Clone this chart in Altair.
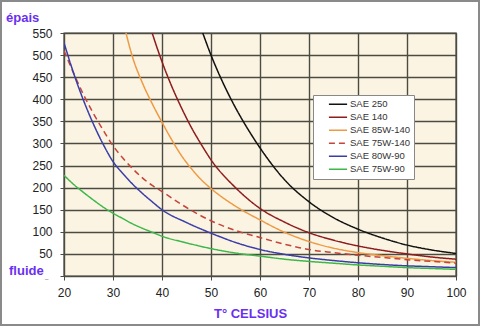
import altair as alt
import pandas as pd

series_names = ["SAE 250", "SAE 140", "SAE 85W-140", "SAE 75W-140", "SAE 80W-90", "SAE 75W-90"]
series_colors = ["#111111", "#8E1C1C", "#EE9A45", "#C5443A", "#3A3DA8", "#3CB84A"]

t_250 = [46, 48, 50, 52, 54, 56, 58, 60, 65, 70, 75, 80, 85, 90, 95, 100]
v_250 = [625, 560, 500, 448, 402, 361, 324, 290, 218, 168, 132, 106, 86, 70, 59, 51]

t_140 = [36, 38, 40, 42, 44, 46, 48, 50, 55, 60, 65, 70, 75, 80, 85, 90, 95, 100]
v_140 = [625, 550, 485, 429, 380, 336, 298, 263, 200, 153, 122, 98, 81, 68, 58, 50, 43, 38]

t_85w140 = [30, 32, 34, 36, 38, 40, 42, 44, 46, 48, 50, 55, 60, 65, 70, 75, 80, 85, 90, 95, 100]
v_85w140 = [680, 580, 495, 437, 390, 348, 308, 272, 243, 218, 198, 158, 127, 99, 78, 63, 53, 46, 40, 35, 31]

t_low = [20, 22, 24, 26, 28, 30, 32, 34, 36, 38, 40, 45, 50, 55, 60, 65, 70, 75, 80, 85, 90, 95, 100]
v_75w140 = [510, 458, 410, 368, 330, 295, 267, 243, 222, 205, 191, 155, 125, 103, 87, 72, 60, 53, 47, 42, 37, 33, 29]
v_80w90 = [528, 458, 397, 344, 298, 259, 232, 208, 187, 168, 150, 121, 97, 76, 60, 49, 41, 35, 30, 26, 23, 21, 19]
v_75w90 = [228, 207, 189, 172, 156, 142, 130, 118, 108, 99, 90, 75, 62, 52, 45, 38, 33, 29, 25, 22, 19, 17, 15]

x_ticks = [20, 30, 40, 50, 60, 70, 80, 90, 100]
y_ticks = [0, 50, 100, 150, 200, 250, 300, 350, 400, 450, 500, 550]

rows = []
for name, ts, vs in [
    ("SAE 250", t_250, v_250),
    ("SAE 140", t_140, v_140),
    ("SAE 85W-140", t_85w140, v_85w140),
    ("SAE 75W-140", t_low, v_75w140),
    ("SAE 80W-90", t_low, v_80w90),
    ("SAE 75W-90", t_low, v_75w90),
]:
    for t, v in zip(ts, vs):
        rows.append({"serie": name, "T": t, "v": v})
df = pd.DataFrame(rows)

FONT = "Liberation Sans"
PURPLE = "#6A2FF0"
GRID = "#4B4B42"

lines = alt.Chart(df).mark_line(clip=True, strokeWidth=1.5, interpolate="monotone").encode(
    x=alt.X("T:Q", scale=alt.Scale(domain=[20, 100], nice=False),
            axis=alt.Axis(values=x_ticks, title="T° CELSIUS", grid=True, gridColor=GRID, gridWidth=1.4,
                          tickSize=4, tickColor=GRID, domainColor=GRID, labelPadding=7, labelFlush=False,
                          labelFontSize=12, labelColor="#222", labelFont=FONT,
                          titleFont=FONT, titleFontSize=13, titleFontWeight="bold", titleColor=PURPLE,
                          titleX=186, titleY=41, titleBaseline="alphabetic", titleAnchor="start", titleAlign="center")),
    y=alt.Y("v:Q", scale=alt.Scale(domain=[0, 550], nice=False),
            axis=alt.Axis(values=y_ticks, title=None, grid=True, gridColor=GRID, gridWidth=1.4,
                          tickSize=4, tickColor=GRID, domainColor=GRID, labelPadding=8, labelFlush=False,
                          labelFontSize=12, labelColor="#222", labelFont=FONT,
                          labelExpr="datum.value == 0 ? '' : datum.label")),
    color=alt.Color("serie:N", scale=alt.Scale(domain=series_names, range=series_colors),
                    sort=series_names,
                    legend=alt.Legend(title=None, orient="none", legendX=249, legendY=62,
                                      symbolType="stroke", symbolSize=330, symbolStrokeWidth=1.5,
                                      labelFont=FONT, labelFontSize=9.5, labelColor="#333",
                                      fillColor="white", strokeColor="#888", padding=3,
                                      symbolOffset=12, labelOffset=2, rowPadding=0, clipHeight=12.5)),
    strokeDash=alt.StrokeDash("serie:N", scale=alt.Scale(domain=series_names,
                              range=[[1, 0], [1, 0], [1, 0], [6, 4], [1, 0], [1, 0]]),
                              sort=series_names, legend=None),
)

epais = alt.Chart(pd.DataFrame({"txt": ["épais"]})).mark_text(
    font=FONT, fontSize=13, fontWeight="bold", color=PURPLE, align="left", baseline="alphabetic"
).encode(text="txt:N", x=alt.value(-58), y=alt.value(-11))
fluide = alt.Chart(pd.DataFrame({"txt": ["fluide"]})).mark_text(
    font=FONT, fontSize=13, fontWeight="bold", color=PURPLE, align="left", baseline="alphabetic"
).encode(text="txt:N", x=alt.value(-55), y=alt.value(242))
dash = alt.Chart(pd.DataFrame({"txt": ["_"]})).mark_text(
    font=FONT, fontSize=6, color="#444", align="left", baseline="alphabetic"
).encode(text="txt:N", x=alt.value(-19), y=alt.value(246))
border = alt.Chart(pd.DataFrame({"a": [0]})).mark_rect(
    fill=None, stroke="#8a8a8a", strokeWidth=2, clip=False
).encode(x=alt.value(-63), x2=alt.value(415), y=alt.value(-32), y2=alt.value(292))

chart = alt.layer(lines, epais, fluide, dash, border).properties(
    width=392, height=243,
    autosize=alt.AutoSizeParams(type="none"),
    padding={"left": 64, "top": 33, "right": 24, "bottom": 50},
    background="white",
).configure_view(fill="#FBF4E3", stroke=GRID, strokeWidth=1.4)

chart.save("out.html", embed_options={"renderer": "svg", "actions": False})
